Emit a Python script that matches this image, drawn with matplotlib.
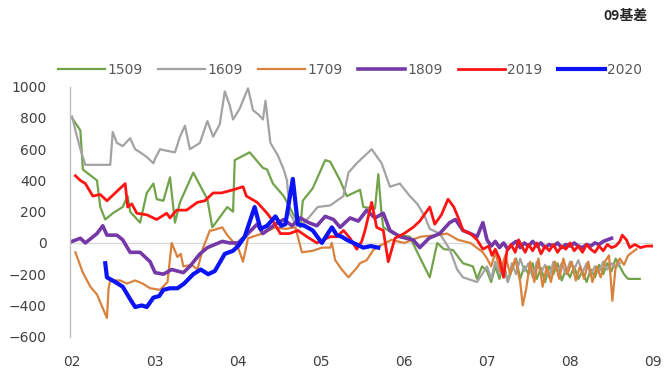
import matplotlib
matplotlib.use("Agg")
import matplotlib.pyplot as plt
from matplotlib.lines import Line2D

plt.rcParams['font.family'] = ['DejaVu Sans', 'Noto Sans CJK SC']

# x positions are in months (2 = Feb 1, 9 = Sep 1)
m1509 = [2.00, 2.10, 2.13, 2.30, 2.34, 2.40, 2.49, 2.61, 2.67, 2.70, 2.82, 2.90, 2.98, 3.02, 3.10,
         3.18, 3.24, 3.30, 3.46, 3.63, 3.69, 3.87, 3.94, 3.96, 4.14, 4.30, 4.35, 4.42, 4.55, 4.66,
         4.75, 4.78, 4.90, 5.05, 5.11, 5.23, 5.31, 5.47, 5.51, 5.65, 5.69, 5.73, 5.75, 5.87, 5.95,
         6.07, 6.16, 6.31, 6.40, 6.48, 6.59, 6.71, 6.83, 6.88, 6.94, 7.00, 7.05, 7.10, 7.15, 7.20,
         7.25, 7.30, 7.35, 7.40, 7.45, 7.50, 7.55, 7.60, 7.65, 7.70, 7.75, 7.80, 7.85, 7.90, 7.95,
         8.00, 8.05, 8.10, 8.15, 8.20, 8.25, 8.30, 8.35, 8.40, 8.45, 8.50, 8.55, 8.60, 8.65, 8.70,
         8.78, 8.84]
v1509 = [800, 720, 470, 400, 230, 150, 190, 230, 300, 200, 130, 320, 380, 280, 270,
         420, 130, 260, 450, 280, 100, 230, 200, 530, 580, 480, 470, 380, 300, 190,
         100, 270, 350, 530, 520, 400, 300, 340, 230, 220, 440, 180, 100, 60, 50,
         40, -60, -220, 0, -40, -45, -130, -150, -230, -150, -180, -250, -150, -230, -130,
         -250, -170, -100, -230, -150, -200, -130, -230, -160, -250, -150, -200, -130, -240, -170,
         -220, -150, -230, -180, -250, -170, -220, -140, -200, -130, -180, -100, -150, -200, -230,
         -230, -230]

m1609 = [2.00, 2.04, 2.10, 2.16, 2.30, 2.46, 2.49, 2.54, 2.61, 2.70, 2.76, 2.82, 2.90, 2.98, 3.00,
         3.06, 3.14, 3.24, 3.30, 3.36, 3.42, 3.54, 3.63, 3.70, 3.78, 3.84, 3.90, 3.94, 4.02, 4.12,
         4.18, 4.25, 4.30, 4.33, 4.39, 4.48, 4.55, 4.59, 4.62, 4.71, 4.80, 4.96, 5.11, 5.27, 5.33,
         5.43, 5.51, 5.61, 5.73, 5.83, 5.95, 6.07, 6.16, 6.25, 6.31, 6.43, 6.55, 6.64, 6.71, 6.88,
         6.94, 7.00, 7.05, 7.10, 7.15, 7.20, 7.25, 7.30, 7.35, 7.40, 7.45, 7.50, 7.55, 7.60, 7.65,
         7.70, 7.75, 7.80, 7.85, 7.90, 7.95, 8.00, 8.05, 8.10, 8.15, 8.20, 8.25, 8.30, 8.35, 8.40,
         8.45, 8.50, 8.55, 8.60]
v1609 = [810, 720, 600, 500, 500, 500, 710, 640, 620, 670, 600, 580, 550, 510, 540,
         600, 590, 580, 680, 750, 600, 640, 780, 680, 760, 970, 880, 790, 860, 990,
         850, 820, 790, 910, 640, 560, 470, 400, 190, 110, 130, 230, 240, 300, 450,
         510, 550, 600, 510, 360, 380, 300, 250, 170, 90, 60, -40, -170, -220, -250,
         -200, -150, -230, -120, -200, -150, -250, -130, -200, -100, -180, -130, -220, -120, -190,
         -140, -220, -120, -180, -130, -200, -120, -170, -110, -190, -130, -200, -150, -180, -120,
         -170, -130, -160, -130]

m1709 = [2.04, 2.13, 2.22, 2.30, 2.42, 2.44, 2.46, 2.58, 2.66, 2.76, 2.85, 2.94, 3.06, 3.15, 3.20,
         3.27, 3.31, 3.34, 3.44, 3.51, 3.58, 3.66, 3.69, 3.81, 3.87, 4.00, 4.06, 4.12, 4.29, 4.45,
         4.57, 4.69, 4.77, 4.90, 5.01, 5.11, 5.13, 5.17, 5.25, 5.33, 5.43, 5.47, 5.55, 5.63, 5.70,
         5.85, 6.00, 6.20, 6.40, 6.52, 6.65, 6.80, 6.95, 7.00, 7.05, 7.10, 7.16, 7.22, 7.28, 7.34,
         7.40, 7.43, 7.47, 7.52, 7.57, 7.62, 7.67, 7.72, 7.77, 7.82, 7.87, 7.92, 7.97, 8.02, 8.07,
         8.12, 8.17, 8.22, 8.27, 8.32, 8.37, 8.42, 8.47, 8.51, 8.55, 8.60, 8.65, 8.70, 8.75, 8.80]
v1709 = [-60, -190, -280, -330, -480, -290, -240, -240, -260, -240, -260, -290, -300, -250, 0,
         -90, -70, -150, -140, -170, -30, 80, 80, 100, 50, -30, -120, 30, 60, 100,
         90, 100, -60, -50, -30, -30, 0, -110, -170, -220, -160, -130, -110, -45, -20,
         20, 0, 40, 50, 60, 20, 0, -60, -100, -150, -60, -180, -80, -200, -100,
         -250, -400, -300, -120, -250, -100, -280, -150, -250, -120, -230, -100, -200, -120, -240,
         -150, -230, -120, -250, -150, -220, -120, -80, -370, -150, -100, -140, -80, -60, -40]

m1809 = [2.00, 2.10, 2.16, 2.30, 2.37, 2.42, 2.54, 2.61, 2.70, 2.82, 2.94, 3.00, 3.10, 3.20, 3.34,
         3.42, 3.54, 3.63, 3.72, 3.81, 3.90, 4.00, 4.10, 4.23, 4.30, 4.45, 4.55, 4.65, 4.75, 4.85,
         4.95, 5.05, 5.15, 5.23, 5.35, 5.45, 5.55, 5.65, 5.75, 5.83, 5.95, 6.11, 6.19, 6.30, 6.43,
         6.55, 6.62, 6.71, 6.80, 6.88, 6.95, 7.00, 7.05, 7.10, 7.15, 7.20, 7.25, 7.30, 7.35, 7.40,
         7.45, 7.50, 7.55, 7.60, 7.65, 7.70, 7.75, 7.80, 7.85, 7.90, 7.95, 8.00, 8.05, 8.10, 8.15,
         8.20, 8.25, 8.30, 8.35, 8.40, 8.45, 8.50]
v1809 = [10, 30, 0, 60, 110, 50, 50, 20, -60, -60, -120, -190, -200, -170, -190,
         -150, -70, -30, -10, 10, 0, 0, 50, 120, 60, 120, 150, 110, 160, 130,
         110, 170, 150, 100, 160, 140, 210, 160, 190, 80, 40, 20, -30, 30, 60,
         130, 150, 80, 60, 40, 130, 20, -20, 10, -30, 0, -40, -10, 10, -30,
         0, -20, 10, -20, 0, -30, -10, -20, 0, -30, -10, -20, 0, -20, -30,
         -10, -20, 0, -10, 10, 20, 30]

m2019 = [2.04, 2.10, 2.16, 2.25, 2.34, 2.42, 2.52, 2.64, 2.67, 2.72, 2.78, 2.90, 3.02, 3.14, 3.18,
         3.26, 3.38, 3.51, 3.60, 3.70, 3.80, 3.94, 4.06, 4.10, 4.23, 4.35, 4.42, 4.51, 4.62, 4.72,
         4.83, 4.95, 5.11, 5.19, 5.27, 5.35, 5.43, 5.49, 5.53, 5.61, 5.67, 5.75, 5.81, 5.89, 6.00,
         6.11, 6.19, 6.31, 6.37, 6.45, 6.53, 6.60, 6.67, 6.71, 6.80, 6.88, 6.95, 7.02, 7.06, 7.10,
         7.15, 7.20, 7.24, 7.29, 7.34, 7.38, 7.42, 7.46, 7.50, 7.55, 7.60, 7.65, 7.70, 7.75, 7.80,
         7.85, 7.90, 7.95, 8.00, 8.05, 8.10, 8.15, 8.20, 8.25, 8.30, 8.35, 8.40, 8.45, 8.50, 8.55,
         8.60, 8.63, 8.68, 8.72, 8.78, 8.85, 8.92, 8.99]
v2019 = [430, 400, 380, 300, 310, 270, 320, 380, 230, 250, 190, 180, 150, 190, 160,
         210, 210, 260, 270, 320, 320, 340, 360, 300, 260, 190, 140, 60, 60, 80,
         40, 0, 40, 40, 80, 30, -40, 10, 80, 260, 100, 80, -120, 30, 60,
         100, 140, 230, 120, 180, 280, 230, 140, 80, 60, 20, -40, -20, -80, -40,
         -100, -220, -50, -10, -60, 20, -20, -60, -10, -50, 0, -70, -20, -50, -10,
         -60, -20, -40, 0, -50, -20, -60, -10, -40, -60, -20, -50, -10, -30, -20,
         10, 50, 20, -30, -10, -30, -20, -20]

m2020 = [2.40, 2.42, 2.52, 2.61, 2.70, 2.76, 2.84, 2.90, 2.98, 3.05, 3.10, 3.18, 3.27, 3.35, 3.46,
         3.55, 3.64, 3.72, 3.84, 3.94, 4.00, 4.08, 4.20, 4.27, 4.35, 4.45, 4.52, 4.57, 4.66, 4.72,
         4.80, 4.90, 5.01, 5.13, 5.19, 5.25, 5.31, 5.43, 5.51, 5.60, 5.69]
v2020 = [-130, -220, -250, -280, -360, -410, -400, -410, -350, -340, -300, -290, -290, -260, -200,
         -170, -200, -180, -70, -50, -20, 40, 230, 90, 110, 170, 110, 120, 410, 120,
         110, 80, 0, 100, 50, 40, 20, -10, -30, -20, -30]

series = [
    ("1509", m1509, v1509, "#70A34A", 1.6),
    ("1609", m1609, v1609, "#A3A3A3", 1.6),
    ("1709", m1709, v1709, "#D9823E", 1.6),
    ("1809", m1809, v1809, "#7439A6", 2.6),
    ("2019", m2019, v2019, "#FF1414", 2.0),
    ("2020", m2020, v2020, "#0A14F5", 3.0),
]

month_ticks = [2, 3, 4, 5, 6, 7, 8, 9]
month_labels = ["02", "03", "04", "05", "06", "07", "08", "09"]
y_ticks = [-600, -400, -200, 0, 200, 400, 600, 800, 1000]

fig = plt.figure(figsize=(6.64, 3.74), dpi=100)
ax = fig.add_axes([70 / 664, 1 - 336.7 / 374, (653 - 70) / 664, (336.7 - 86.7) / 374])

ax.axhline(0, color="#D9D9D9", lw=1.0, zorder=1)
for name, xs, ys, col, lw in series:
    ax.plot(xs, ys, color=col, lw=lw, label=name, zorder=2, solid_joinstyle="round")

ax.set_xlim(1.975, 9.0)
ax.set_ylim(-600, 1000)
ax.set_xticks(month_ticks)
ax.set_xticklabels(month_labels)
ax.set_yticks(y_ticks)
ax.tick_params(axis="both", length=0, labelsize=10, colors="#404040")
ax.tick_params(axis="y", pad=17)
ax.tick_params(axis="x", pad=13)
for s in ("top", "right", "bottom"):
    ax.spines[s].set_visible(False)
ax.spines["left"].set_color("#BFBFBF")
ax.spines["left"].set_linewidth(1.0)

handles = [Line2D([0], [0], color=c, lw=lw) for _, _, _, c, lw in series]
labels = [n for n, *_ in series]
fig.legend(handles, labels, loc="center", bbox_to_anchor=(350 / 664, 1 - 70 / 374), ncol=6,
           frameon=False, fontsize=10, handlelength=3.4, handletextpad=0.15,
           columnspacing=1.1, labelcolor="#595959")

fig.text(648 / 664, 1 - 16 / 374, "09基差", ha="right", va="center", fontsize=10,
         fontweight="bold", color="#262626", family=["Noto Sans CJK SC", "DejaVu Sans"])

fig.savefig("out.png", dpi=100, facecolor="white")
